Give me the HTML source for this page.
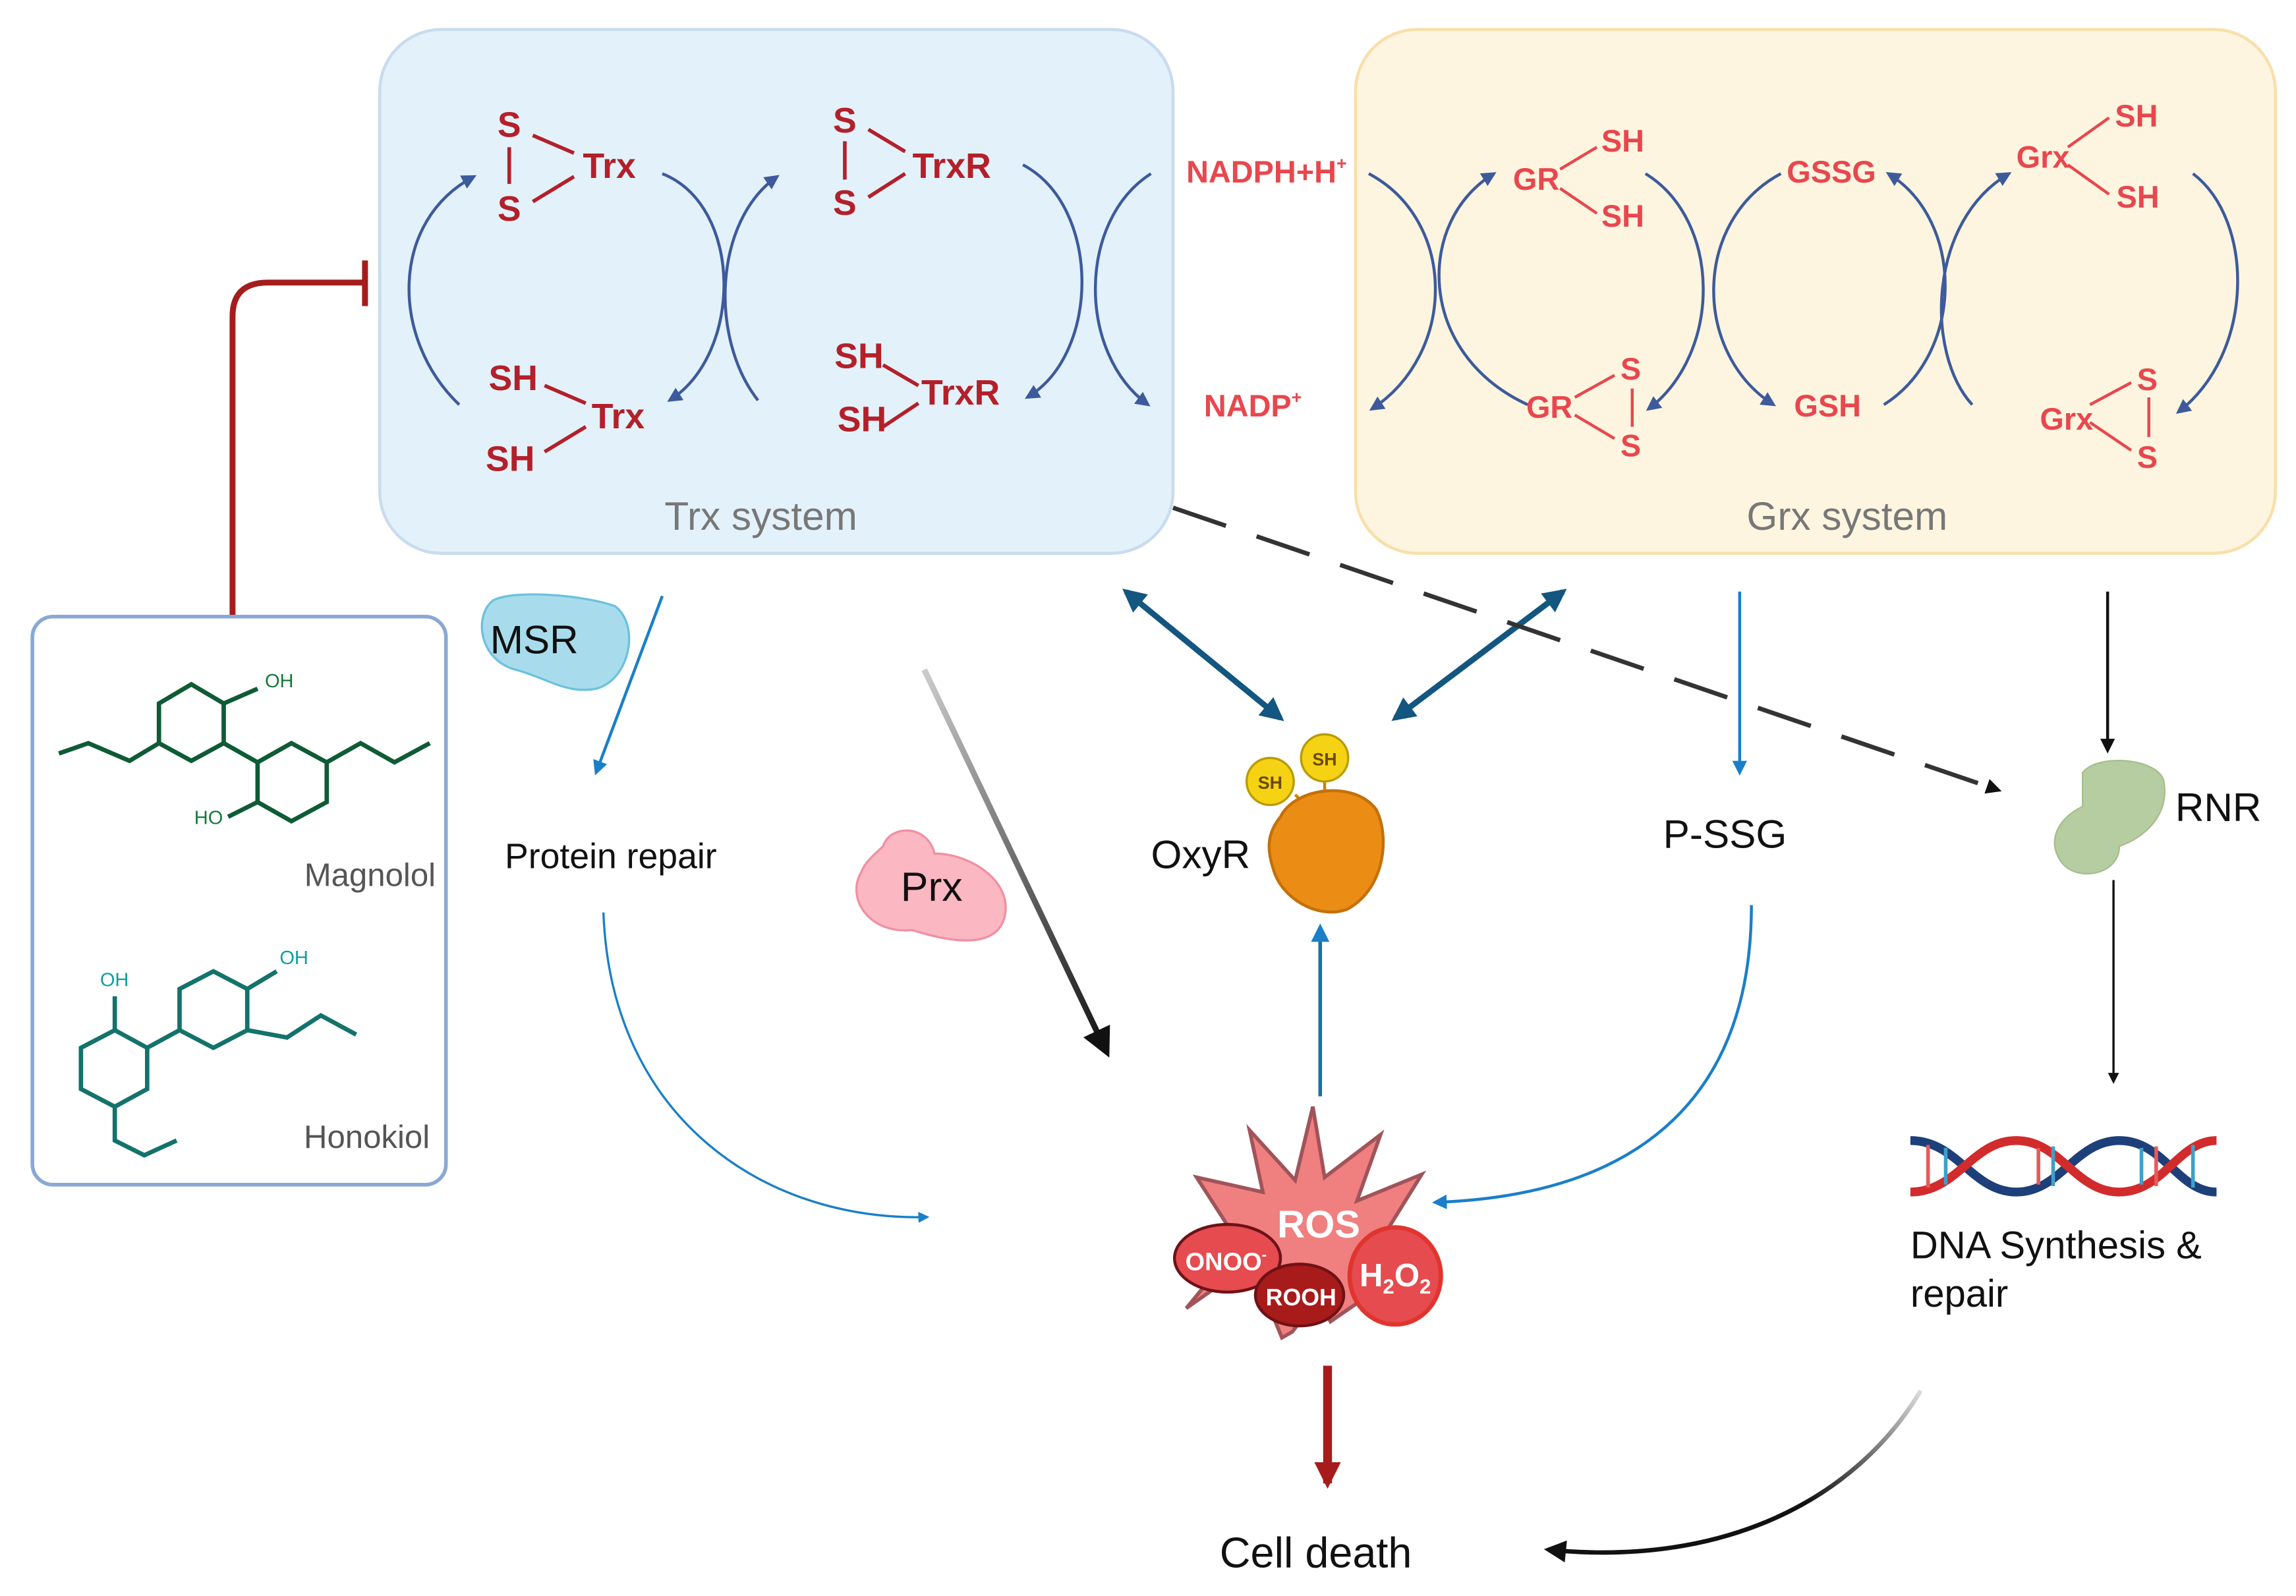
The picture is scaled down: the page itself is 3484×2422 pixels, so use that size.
<!DOCTYPE html>
<html><head><meta charset="utf-8"><style>
html,body{margin:0;padding:0;background:#fff;}
svg{display:block;}
text{font-family:"Liberation Sans",sans-serif;}
</style></head><body>
<svg width="3484" height="2422" viewBox="0 0 1560 1084.5" preserveAspectRatio="none" xmlns="http://www.w3.org/2000/svg">
<defs>
<marker id="ab" viewBox="0 0 10 10" refX="8" refY="5" markerWidth="5" markerHeight="5" orient="auto"><path d="M0,0 L10,5 L0,10 z" fill="#3d5a9c"/></marker>
<marker id="ablue" viewBox="0 0 10 10" refX="8" refY="5" markerWidth="5" markerHeight="5" orient="auto"><path d="M0,0 L10,5 L0,10 z" fill="#1a7fc8"/></marker>
<marker id="adb" viewBox="0 0 10 10" refX="8" refY="5" markerWidth="4" markerHeight="4" orient="auto-start-reverse"><path d="M0,0 L10,5 L0,10 z" fill="#13567f"/></marker>
<marker id="ak" viewBox="0 0 10 10" refX="8" refY="5" markerWidth="5" markerHeight="5" orient="auto"><path d="M0,0 L10,5 L0,10 z" fill="#111"/></marker>
<marker id="ak2" viewBox="0 0 10 10" refX="8" refY="5" markerWidth="3.5" markerHeight="3.5" orient="auto"><path d="M0,0 L10,5 L0,10 z" fill="#111"/></marker>
<marker id="ar" viewBox="0 0 10 10" refX="8" refY="5" markerWidth="3" markerHeight="3" orient="auto"><path d="M0,0 L10,5 L0,10 z" fill="#a61c1c"/></marker>
<linearGradient id="g1" x1="0" y1="0" x2="1" y2="1"><stop offset="0" stop-color="#ccc"/><stop offset="1" stop-color="#111"/></linearGradient>
<linearGradient id="g2" x1="1" y1="0" x2="0" y2="1"><stop offset="0" stop-color="#ddd"/><stop offset="0.5" stop-color="#111"/></linearGradient>
</defs>

<!-- boxes -->
<rect x="258" y="20" width="539" height="356" rx="42" fill="#e3f1fa" stroke="#c8dcee" stroke-width="2"/>
<rect x="921" y="20" width="625" height="356" rx="42" fill="#fdf5e0" stroke="#f7e0a9" stroke-width="2"/>
<text x="517" y="360" font-size="27" fill="#777" text-anchor="middle">Trx system</text>
<text x="1255" y="360" font-size="27" fill="#777" text-anchor="middle">Grx system</text>

<!-- Trx labels -->
<g fill="#b3202a" font-weight="bold" font-size="24">
<text x="338" y="93">S</text><text x="338" y="150">S</text>
<text x="396" y="121">Trx</text>
<text x="566" y="90">S</text><text x="566" y="146">S</text>
<text x="620" y="121">TrxR</text>
<text x="332" y="265">SH</text><text x="330" y="320">SH</text>
<text x="402" y="291">Trx</text>
<text x="567" y="250">SH</text><text x="569" y="293">SH</text>
<text x="626" y="275">TrxR</text>
</g>
<g stroke="#b3202a" stroke-width="2.5">
<line x1="346" y1="100" x2="346" y2="125"/><line x1="362" y1="92" x2="390" y2="104"/><line x1="362" y1="137" x2="390" y2="120"/>
<line x1="574" y1="96" x2="574" y2="122"/><line x1="590" y1="88" x2="615" y2="103"/><line x1="590" y1="134" x2="615" y2="118"/>
<line x1="370" y1="262" x2="398" y2="274"/><line x1="370" y1="307" x2="398" y2="290"/>
<line x1="600" y1="248" x2="624" y2="262"/><line x1="600" y1="290" x2="624" y2="274"/>
</g>
<g fill="#e8474e" font-weight="bold" font-size="21">
<text x="806" y="124">NADPH+H<tspan font-size="12" dy="-9">+</tspan></text>
<text x="818" y="283">NADP<tspan font-size="12" dy="-9">+</tspan></text>
</g>
<!-- Grx labels -->
<g fill="#e8474e" font-weight="bold" font-size="21">
<text x="1028" y="129">GR</text><text x="1088" y="103">SH</text><text x="1088" y="154">SH</text>
<text x="1214" y="124">GSSG</text>
<text x="1370" y="114">Grx</text><text x="1437" y="86">SH</text><text x="1438" y="141">SH</text>
<text x="1037" y="284">GR</text><text x="1101" y="258">S</text><text x="1101" y="310">S</text>
<text x="1219" y="283">GSH</text>
<text x="1386" y="292">Grx</text><text x="1452" y="265">S</text><text x="1452" y="318">S</text>
</g>
<g stroke="#e8474e" stroke-width="2">
<line x1="1060" y1="115" x2="1085" y2="100"/><line x1="1060" y1="128" x2="1085" y2="145"/>
<line x1="1405" y1="100" x2="1433" y2="80"/><line x1="1405" y1="112" x2="1433" y2="132"/>
<line x1="1070" y1="270" x2="1097" y2="255"/><line x1="1070" y1="282" x2="1097" y2="298"/><line x1="1109" y1="264" x2="1109" y2="290"/>
<line x1="1420" y1="275" x2="1448" y2="260"/><line x1="1420" y1="287" x2="1448" y2="306"/><line x1="1460" y1="270" x2="1460" y2="297"/>
</g>
<!-- cycle arcs -->
<g fill="none" stroke="#3d5a9c" stroke-width="2" marker-end="url(#ab)">
<path d="M312,275 C265,230 265,150 322,120"/>
<path d="M450,118 C505,140 505,240 455,272"/>
<path d="M515,272 C482,230 485,150 528,120"/>
<path d="M695,112 C748,140 748,240 698,270"/>
<path d="M782,118 C732,150 732,240 780,275"/>
<path d="M930,118 C990,150 990,240 932,278"/>
<path d="M1038,275 C962,240 962,150 1015,118"/>
<path d="M1118,118 C1170,150 1170,240 1120,278"/>
<path d="M1210,118 C1150,150 1150,240 1205,275"/>
<path d="M1280,275 C1335,240 1335,150 1283,118"/>
<path d="M1340,275 C1308,240 1310,150 1365,118"/>
<path d="M1490,118 C1532,150 1532,240 1480,280"/>
</g>

<!-- inhibition -->
<path d="M158,418 L158,215 Q158,192 182,192 L248,192" fill="none" stroke="#a61c1c" stroke-width="4"/>
<line x1="248" y1="177" x2="248" y2="208" stroke="#a61c1c" stroke-width="4"/>

<!-- left box -->
<rect x="22" y="419" width="281" height="386" rx="14" fill="#fff" stroke="#8aa8d4" stroke-width="2.5"/>
<g fill="none" stroke="#0e5b35" stroke-width="3">
<path d="M40,512 L60,505 L88,517 L108,505 L108,478 L130,465 L152,478 L152,505 L130,517 L108,505"/>
<path d="M152,478 L175,468"/><path d="M152,505 L175,518 L198,505 L222,518 L222,545 L198,558 L175,545 L175,518"/>
<path d="M175,545 L155,555"/><path d="M222,518 L245,505 L268,518 L292,505"/>
</g>
<text x="180" y="467" font-size="13" fill="#137a3a">OH</text>
<text x="132" y="560" font-size="13" fill="#137a3a">HO</text>
<text x="296" y="602" font-size="22" fill="#555" text-anchor="end">Magnolol</text>
<g fill="none" stroke="#13736b" stroke-width="3">
<path d="M78,677 L78,700 L55,712 L55,740 L78,752 L100,740 L100,712 L78,700"/>
<path d="M100,712 L122,700 L122,672 L145,660 L168,672 L168,700 L145,712 L122,700"/>
<path d="M168,672 L188,660"/><path d="M168,700 L195,705 L218,690 L242,703"/>
<path d="M78,752 L78,775 L98,785 L120,775"/>
</g>
<text x="68" y="670" font-size="13" fill="#0aa0a0">OH</text>
<text x="190" y="655" font-size="13" fill="#0aa0a0">OH</text>
<text x="292" y="780" font-size="22" fill="#555" text-anchor="end">Honokiol</text>

<!-- MSR -->
<path d="M335,408 C350,400 400,405 418,412 C435,425 428,462 405,468 C385,472 370,460 350,455 C325,448 322,418 335,408 z" fill="#a8dced" stroke="#6cc1dd" stroke-width="1.5"/>
<text x="333" y="444" font-size="27" fill="#111">MSR</text>
<path d="M450,405 L405,525" stroke="#1a7fc8" stroke-width="2" fill="none" marker-end="url(#ablue)"/>
<text x="343" y="590" font-size="24" fill="#111">Protein repair</text>
<path d="M410,620 C415,760 520,830 630,827" stroke="#1a7fc8" stroke-width="1.5" fill="none" marker-end="url(#ablue)"/>

<!-- Prx -->
<path d="M600,575 C605,560 630,560 635,580 C660,580 690,600 682,625 C675,645 645,640 620,632 C590,635 575,610 585,593 C588,585 595,580 600,575 z" fill="#fbb7c2" stroke="#f090a2" stroke-width="1.5"/>
<text x="612" y="612" font-size="28" fill="#111">Prx</text>

<path d="M628,455 L752,715" stroke="url(#g1)" stroke-width="4" fill="none" marker-end="url(#ak)"/>

<!-- double arrows -->
<line x1="765" y1="402" x2="870" y2="488" stroke="#13567f" stroke-width="4" marker-start="url(#adb)" marker-end="url(#adb)"/>
<line x1="1062" y1="402" x2="948" y2="488" stroke="#13567f" stroke-width="4" marker-start="url(#adb)" marker-end="url(#adb)"/>

<!-- dashed -->
<line x1="797" y1="345" x2="1358" y2="537" stroke="#333" stroke-width="3" stroke-dasharray="38,22" marker-end="url(#ak2)"/>

<!-- OxyR -->
<line x1="880" y1="540" x2="895" y2="555" stroke="#c8860a" stroke-width="2"/>
<line x1="900" y1="530" x2="900" y2="550" stroke="#c8860a" stroke-width="2"/>
<path d="M870,555 C880,535 920,530 935,550 C945,570 940,605 915,618 C895,625 870,610 865,590 C860,575 862,565 870,555 z" fill="#eb8c14" stroke="#c4700a" stroke-width="2"/>
<circle cx="863" cy="531" r="16" fill="#f6d215" stroke="#b99b00" stroke-width="1.5"/>
<circle cx="900" cy="515" r="16" fill="#f6d215" stroke="#b99b00" stroke-width="1.5"/>
<text x="863" y="536" font-size="12" fill="#6b4a00" text-anchor="middle" font-weight="bold">SH</text>
<text x="900" y="520" font-size="12" fill="#6b4a00" text-anchor="middle" font-weight="bold">SH</text>
<text x="782" y="590" font-size="27" fill="#111">OxyR</text>
<line x1="897" y1="745" x2="897" y2="630" stroke="#1d6fa0" stroke-width="2.5" marker-end="url(#ablue)"/>

<!-- P-SSG -->
<line x1="1182" y1="402" x2="1182" y2="525" stroke="#1a7fc8" stroke-width="2" marker-end="url(#ablue)"/>
<text x="1130" y="576" font-size="27" fill="#111">P-SSG</text>
<path d="M1190,615 C1190,740 1120,812 975,817" stroke="#1a7fc8" stroke-width="2" fill="none" marker-end="url(#ablue)"/>

<!-- RNR -->
<line x1="1432" y1="402" x2="1432" y2="510" stroke="#111" stroke-width="2" marker-end="url(#ak)"/>
<path d="M1415,525 C1425,512 1465,515 1470,530 C1475,555 1455,570 1440,575 C1440,595 1410,600 1400,585 C1390,570 1400,555 1415,548 z" fill="#b5cda0" stroke="#a3bf8a"/>
<text x="1478" y="558" font-size="27" fill="#111">RNR</text>
<line x1="1436" y1="598" x2="1436" y2="735" stroke="#111" stroke-width="1.5" marker-end="url(#ak)"/>

<!-- DNA -->
<g fill="none" stroke-width="6">
<path d="M1298,775 C1330,775 1340,810 1370,810 C1400,810 1410,775 1440,775 C1470,775 1480,810 1506,810" stroke="#1d3f7a"/>
<path d="M1298,810 C1330,810 1340,775 1370,775 C1400,775 1410,810 1440,810 C1470,810 1480,775 1506,775" stroke="#d22b2b"/>
</g>
<g stroke-width="2.5">
<line x1="1310" y1="778" x2="1310" y2="807" stroke="#e85a5a"/><line x1="1322" y1="780" x2="1322" y2="805" stroke="#3fa0c8"/>
<line x1="1385" y1="780" x2="1385" y2="805" stroke="#e85a5a"/><line x1="1395" y1="779" x2="1395" y2="806" stroke="#3fa0c8"/>
<line x1="1455" y1="780" x2="1455" y2="805" stroke="#3fa0c8"/><line x1="1465" y1="779" x2="1465" y2="806" stroke="#e85a5a"/>
<line x1="1490" y1="778" x2="1490" y2="807" stroke="#3fa0c8"/>
</g>
<text x="1298" y="855" font-size="26" fill="#111">DNA Synthesis &amp;</text>
<text x="1298" y="888" font-size="26" fill="#111">repair</text>
<path d="M1305,945 C1260,1020 1170,1065 1052,1053" stroke="url(#g2)" stroke-width="3" fill="none" marker-end="url(#ak)"/>

<!-- ROS -->
<path d="M871,909 L850,858 L806,889 L842,845 L813,800 L858,810 L849,768 L880,802 L892,752 L900,800 L938,771 L922,816 L966,798 L935,848 L964,870 L930,880 L904,898 L895,883 L878,905 z" fill="#f07f7f" stroke="#a0545a" stroke-width="2.5"/>
<text x="896" y="841" font-size="26" fill="#fff" font-weight="bold" text-anchor="middle">ROS</text>
<ellipse cx="834" cy="855" rx="36" ry="23" fill="#e54b4f" stroke="#6e1216" stroke-width="2"/>
<text x="833" y="863" font-size="17" fill="#fff" font-weight="bold" text-anchor="middle">ONOO<tspan font-size="10" dy="-7">-</tspan></text>
<ellipse cx="883" cy="880" rx="30" ry="21" fill="#a81b1b" stroke="#6e1216" stroke-width="2"/>
<text x="884" y="887" font-size="16" fill="#fff" font-weight="bold" text-anchor="middle">ROOH</text>
<ellipse cx="948" cy="867" rx="31" ry="33" fill="#e54b4f" stroke="#e0352f" stroke-width="3"/>
<text x="948" y="874" font-size="22" fill="#fff" font-weight="bold" text-anchor="middle">H<tspan font-size="14" dy="5">2</tspan><tspan dy="-5">O</tspan><tspan font-size="14" dy="5">2</tspan></text>

<line x1="902" y1="928" x2="902" y2="1008" stroke="#a61c1c" stroke-width="6" marker-end="url(#ar)"/>
<text x="894" y="1065" font-size="29" fill="#111" text-anchor="middle">Cell death</text>
</svg>
</body></html>
